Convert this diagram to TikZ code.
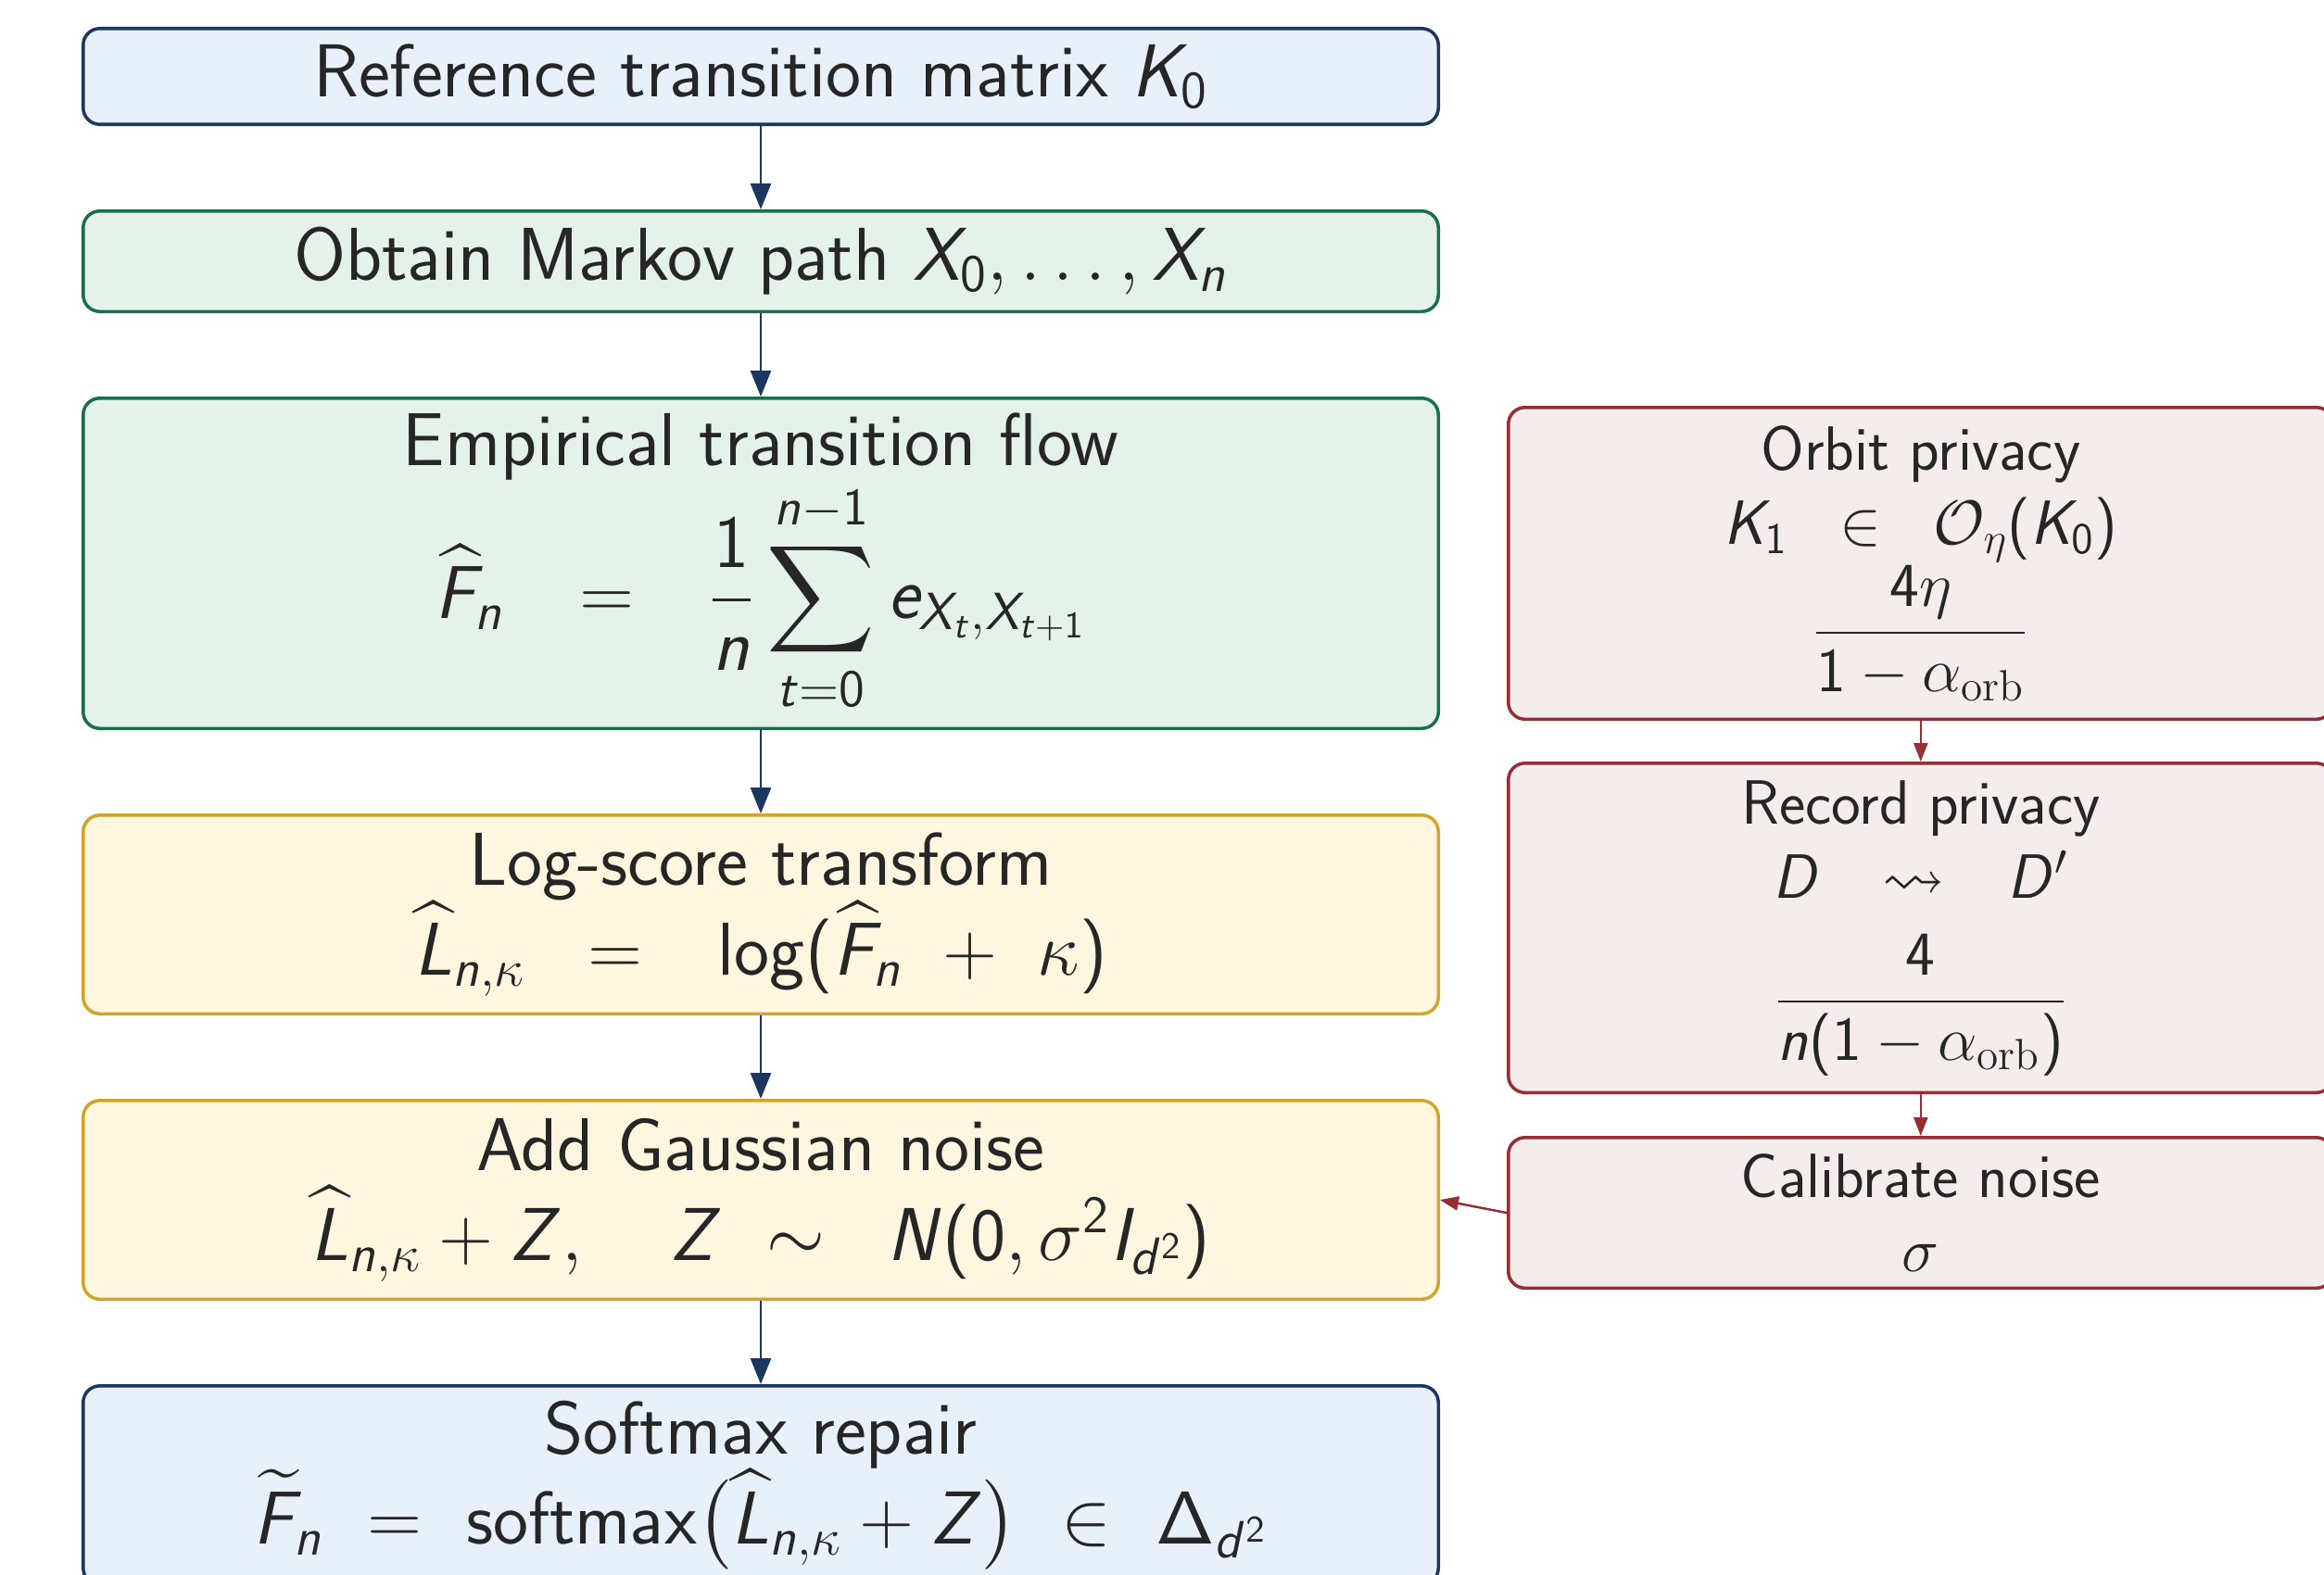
\RequirePackage{fix-cm}
\documentclass[tikz,border=0pt]{standalone}
\usepackage{amsmath,amssymb}
\usetikzlibrary{positioning,arrows.meta}

%sans serif letters and digits in math, greek stays as it is
\DeclareSymbolFont{sfletters}{OT1}{cmss}{m}{sl}
\SetSymbolFont{operators}{normal}{OT1}{cmss}{m}{n}
\foreach \code in {65,...,90}{\global\Umathcode\code=7 \symsfletters \code\relax}
\foreach \code in {97,...,122}{\global\Umathcode\code=7 \symsfletters \code\relax}

\definecolor{navyline}{HTML}{1B365F}
\definecolor{bluefill}{HTML}{E8F0FA}
\definecolor{greenline}{HTML}{17704A}
\definecolor{greenfill}{HTML}{E5F2EA}
\definecolor{goldline}{HTML}{D4A32A}
\definecolor{goldfill}{HTML}{FEF6DF}
\definecolor{redline}{HTML}{962E35}
\definecolor{pinkfill}{HTML}{F5ECEE}

\tikzset{
  stage/.style={draw, rounded corners=1.8mm, line width=1pt, minimum width=14.625cm,
    text width=14cm, align=flush center, inner sep=3pt, text=black!85,
    font=\fontsize{23}{27.6}\selectfont\sffamily},
  bluestage/.style={stage, draw=navyline, fill=bluefill},
  greenstage/.style={stage, draw=greenline, fill=greenfill},
  goldstage/.style={stage, draw=goldline, fill=goldfill},
  privstage/.style={draw=redline, fill=pinkfill, rounded corners=1.8mm, line width=1pt,
    minimum width=8.9cm, text width=8.5cm, align=flush center, inner sep=3pt, text=black!85,
    font=\fontsize{19.2}{22.8}\selectfont\sffamily},
  flowarrow/.style={-{Triangle[length=2.8mm,width=2.2mm]}, line width=0.8pt, navyline},
  privarrow/.style={-{Triangle[length=2mm,width=1.5mm]}, line width=0.7pt, redline}
}

\begin{document}
\begin{tikzpicture}
  \useasboundingbox (0,0) rectangle (25.08,-17);
  %Main pipeline
  \node[bluestage, minimum height=1.035cm] (ref) at (8.21,-0.825) {Reference transition matrix $K_0$};
  \node[greenstage, minimum height=1.085cm, below=0.9 of ref] (path) {Obtain Markov path $X_0,\dots,X_n$};
  \node[greenstage, minimum height=3.565cm, below=0.9 of path] (flow) {Empirical transition flow\\
    $\displaystyle \widehat{F}_n\quad{=}\quad\frac{1}{n}\sum_{t=0}^{n-1} e_{X_t,X_{t+1}}$};
  \node[goldstage, minimum height=2.145cm, below=0.9 of flow] (logscore) {Log-score transform\\
    $\widehat{L}_{n,\kappa}\;\;\;{=}\;\;\;\log(\widehat{F}_n\ +\ \kappa)$};
  \node[goldstage, minimum height=2.145cm, below=0.9 of logscore] (noise) {Add Gaussian noise\\
    $\widehat{L}_{n,\kappa}+Z,\quad Z\ \sim\;\;N(0,\sigma^2 I_{d^2})$};
  \node[bluestage, minimum height=2.145cm, below=0.9 of noise] (softmax) {Softmax repair\\
    $\widetilde{F}_n\ =\ \operatorname{softmax}\bigl(\widehat{L}_{n,\kappa}+Z\bigr)\ \in\ \Delta_{d^2}$};
  %Privacy side
  \node[privstage, minimum height=3.365cm, right=0.72 of flow] (orbit) {Orbit privacy\\
    $K_1\;\;\in\;\;\mathcal{O}_\eta(K_0)$\\
    $\dfrac{4\eta}{1-\alpha_{\textrm{orb}}}$};
  \node[privstage, minimum height=3.555cm, below=0.44 of orbit] (record) {Record privacy\\
    $D\quad{\rightsquigarrow}\quad D'$\\[10pt]
    $\dfrac{4}{n(1-\alpha_{\textrm{orb}})}$};
  \node[privstage, minimum height=1.625cm, below=0.45 of record] (calib) {Calibrate noise\\ $\sigma$};
  %Arrows
  \draw[flowarrow] (ref) -- (path);
  \draw[flowarrow] (path) -- (flow);
  \draw[flowarrow] (flow) -- (logscore);
  \draw[flowarrow] (logscore) -- (noise);
  \draw[flowarrow] (noise) -- (softmax);
  \draw[privarrow] (orbit) -- (record);
  \draw[privarrow] (record) -- (calib);
  \draw[privarrow] (calib.west) -- (noise.east);
\end{tikzpicture}
\end{document}
